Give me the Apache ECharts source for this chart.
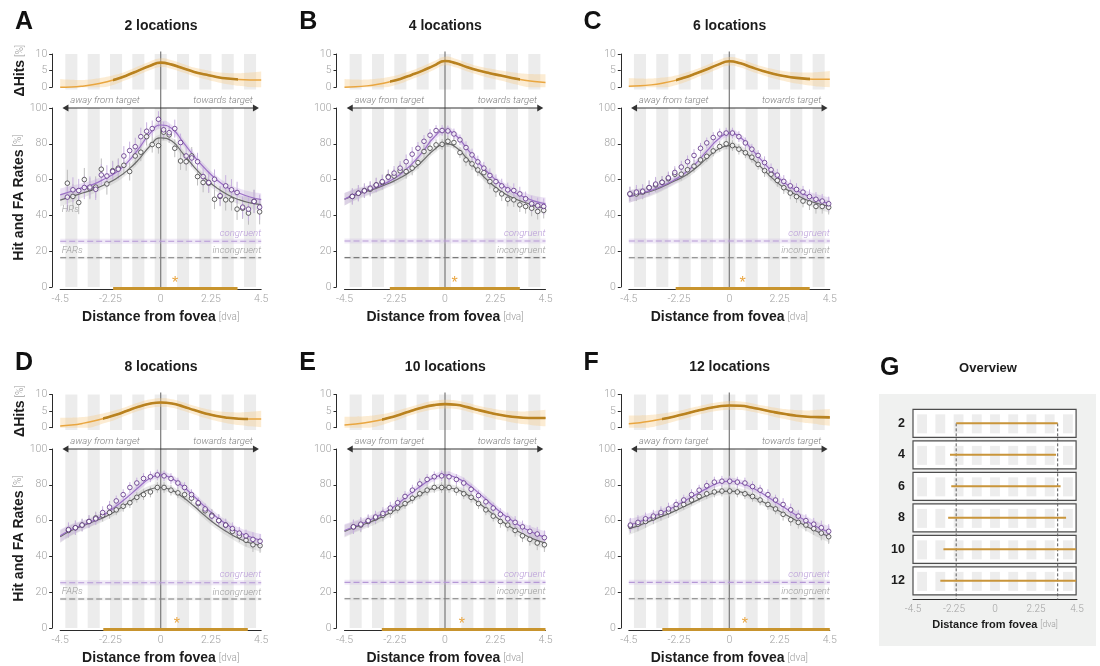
<!DOCTYPE html>
<html>
<head>
<meta charset="utf-8">
<title>Hit and false-alarm rates by distance from fovea</title>
<script src="https://cdn.jsdelivr.net/npm/echarts@6/dist/echarts.min.js"></script>
<style>
  html, body { margin: 0; padding: 0; background: #ffffff; }
  #chart { width: 1100px; height: 666px; }
</style>
</head>
<body>
<div id="chart"></div>
<script>
// ---------------------------------------------------------------- data ----
const setSizes = [2, 4, 6, 8, 10, 12];
const panelLetters = ['A', 'B', 'C', 'D', 'E', 'F'];
const stripeCenters = [-4, -3, -2, -1, 0, 1, 2, 3, 4];

// grid of the fitted curves (dva)
const fitX = [-4.5, -4, -3.5, -3, -2.5, -2, -1.5, -1, -0.5, 0, 0.5, 1, 1.5, 2, 2.5, 3, 3.5, 4, 4.5];
const fitCI = [3.5, 3.0, 2.6, 2.3, 2.1, 2.0, 2.0, 2.0, 2.0, 2.0, 2.0, 2.0, 2.0, 2.0, 2.1, 2.3, 2.6, 3.0, 3.5];
const dHitsCI = [2.5, 2.2, 1.9, 1.7, 1.5, 1.4, 1.3, 1.3, 1.3, 1.3, 1.3, 1.3, 1.3, 1.4, 1.5, 1.7, 1.9, 2.2, 2.5];

// 2 locations
const distA = [-4.18, -3.93, -3.67, -3.42, -3.17, -2.91, -2.66, -2.41, -2.15, -1.90, -1.65, -1.39, -1.14, -0.89, -0.63, -0.38, -0.10, 0.13, 0.38, 0.63, 0.89, 1.14, 1.39, 1.65, 1.90, 2.15, 2.41, 2.66, 2.91, 3.17, 3.42, 3.67, 3.93, 4.18, 4.43];
const congA = [50.2, 54.3, 53.9, 55.6, 55.8, 54.6, 62.6, 62.0, 64.5, 65.8, 73.2, 76.2, 78.4, 84.0, 87.0, 88.5, 93.7, 87.8, 86.2, 88.5, 80.7, 73.2, 72.1, 70.0, 61.7, 58.4, 60.2, 51.0, 56.5, 54.3, 52.8, 44.6, 43.5, 47.8, 44.6];
const incA = [58.0, 50.6, 47.2, 60.0, 55.0, 55.8, 65.8, 57.6, 65.0, 66.4, 68.0, 64.5, 73.2, 75.3, 84.0, 79.6, 79.0, 86.5, 85.0, 77.5, 70.4, 70.0, 73.2, 61.7, 58.4, 58.0, 49.0, 50.6, 48.7, 48.7, 43.5, 44.0, 41.3, 47.8, 42.0];
const errA = [7.5, 7, 6.5, 6.5, 6, 6, 6, 6, 5.5, 5.5, 5.5, 5, 5, 5, 5, 4.5, 4.5, 4.5, 4.5, 5, 5, 5, 5, 5, 5.5, 5.5, 5.5, 5.5, 6, 6, 6, 6, 6.5, 6.5, 7];
const congFitA = [51.5, 53.5, 55.5, 57.5, 60.5, 64.0, 69.5, 77.0, 85.5, 90.5, 88.5, 81.0, 73.0, 66.0, 60.0, 55.5, 52.5, 50.3, 48.8];
const incFitA = [48.5, 50.5, 52.5, 54.5, 57.3, 60.5, 65.0, 71.0, 78.5, 83.3, 81.5, 74.5, 67.0, 60.5, 55.5, 51.5, 48.8, 47.0, 46.0];
const dHitsA = [0.0, 0.05, 0.3, 0.8, 1.5, 2.4, 3.6, 5.0, 6.4, 7.4, 6.8, 5.7, 4.6, 3.8, 3.1, 2.6, 2.3, 2.2, 2.2];

// 4 locations
const distB = [-4.15, -3.88, -3.61, -3.35, -3.08, -2.81, -2.54, -2.28, -2.01, -1.74, -1.47, -1.21, -0.94, -0.67, -0.40, -0.13, 0.13, 0.40, 0.67, 0.94, 1.21, 1.47, 1.74, 2.01, 2.28, 2.54, 2.81, 3.08, 3.35, 3.61, 3.88, 4.15, 4.42];
const congB = [50.6, 52.4, 53.7, 55.2, 57.0, 58.9, 61.3, 63.6, 66.4, 70.0, 74.2, 77.5, 81.4, 84.8, 87.4, 87.4, 87.2, 85.5, 82.2, 77.9, 73.8, 69.9, 66.4, 62.3, 58.9, 56.5, 54.3, 53.9, 52.0, 49.3, 46.5, 45.4, 45.0];
const incB = [50.6, 52.4, 53.9, 54.6, 57.0, 58.4, 61.7, 62.0, 64.9, 64.5, 66.4, 69.5, 75.7, 77.5, 79.4, 79.7, 81.4, 80.7, 75.1, 71.0, 68.8, 65.4, 63.9, 58.9, 54.3, 52.0, 49.0, 48.7, 45.9, 45.0, 44.0, 42.2, 42.8];
const errB = [4.5, 4.5, 4, 4, 4, 4, 4, 4, 4, 4, 4, 3.5, 3.5, 3.5, 3, 3, 3, 3, 3, 3.5, 3.5, 3.5, 3.5, 4, 4, 4, 4, 4, 4, 4, 4.5, 4.5, 4.5];
const congFitB = [49.0, 52.0, 54.0, 56.0, 59.0, 63.0, 68.5, 75.5, 83.5, 87.5, 84.5, 77.0, 69.5, 63.0, 57.5, 53.5, 50.5, 48.0, 46.5];
const incFitB = [49.0, 51.5, 53.5, 55.5, 58.0, 61.0, 65.0, 70.5, 76.5, 80.0, 78.0, 71.5, 64.5, 58.5, 53.5, 50.0, 47.5, 45.5, 44.0];
const dHitsB = [0.0, 0.1, 0.4, 0.9, 1.6, 2.5, 3.7, 5.0, 6.5, 7.9, 7.2, 6.0, 5.0, 4.2, 3.5, 2.8, 2.2, 1.7, 1.4];

// 6 locations
const distC = [-4.45, -4.16, -3.88, -3.59, -3.30, -3.01, -2.73, -2.44, -2.15, -1.87, -1.58, -1.29, -1.01, -0.72, -0.43, -0.14, 0.14, 0.43, 0.72, 1.01, 1.29, 1.58, 1.87, 2.15, 2.44, 2.73, 3.01, 3.30, 3.59, 3.88, 4.16, 4.45];
const congC = [52.0, 53.0, 53.5, 55.5, 57.5, 58.5, 61.0, 64.0, 67.0, 70.0, 73.5, 77.5, 80.5, 83.5, 85.5, 86.0, 86.0, 84.0, 80.5, 77.0, 73.5, 69.5, 65.5, 62.5, 59.0, 56.5, 54.5, 53.0, 50.5, 49.0, 48.0, 46.5];
const incC = [52.0, 52.0, 53.0, 55.5, 57.0, 58.5, 60.5, 63.0, 63.0, 65.5, 67.5, 71.0, 73.0, 76.0, 78.5, 80.0, 79.0, 77.0, 75.0, 72.5, 68.5, 65.0, 63.0, 59.5, 55.5, 52.5, 50.5, 48.0, 47.0, 45.0, 45.0, 44.5];
const errC = [4, 4, 4, 4, 4, 3.5, 3.5, 3.5, 3.5, 3.5, 3.5, 3, 3, 3, 3, 3, 3, 3, 3, 3, 3, 3.5, 3.5, 3.5, 3.5, 3.5, 3.5, 3.5, 4, 4, 4, 4];
const congFitC = [50.5, 52.0, 54.0, 56.5, 59.5, 63.5, 69.0, 76.0, 82.5, 86.0, 83.5, 77.0, 70.0, 63.5, 58.0, 54.0, 51.0, 48.5, 46.5];
const incFitC = [50.5, 52.0, 53.5, 56.0, 59.0, 62.0, 66.5, 72.0, 77.0, 79.0, 77.0, 72.0, 66.0, 60.0, 55.0, 51.5, 48.5, 46.5, 45.0];
const dHitsC = [0.3, 0.4, 0.7, 1.2, 1.9, 2.9, 4.1, 5.4, 6.8, 7.8, 7.2, 6.0, 4.9, 4.0, 3.3, 2.8, 2.5, 2.4, 2.4];

// 8 locations
const distD = [-4.13, -3.82, -3.52, -3.21, -2.91, -2.60, -2.29, -1.99, -1.68, -1.38, -1.07, -0.77, -0.46, -0.15, 0.15, 0.46, 0.77, 1.07, 1.38, 1.68, 1.99, 2.29, 2.60, 2.91, 3.21, 3.52, 3.82, 4.13, 4.45];
const congD = [55.0, 56.0, 57.5, 59.5, 61.0, 64.5, 67.5, 71.0, 74.5, 78.5, 81.0, 83.5, 84.5, 85.5, 85.0, 83.5, 81.0, 78.5, 74.5, 70.0, 66.5, 62.5, 60.0, 57.5, 55.5, 53.0, 51.5, 49.5, 48.5];
const incD = [54.5, 56.0, 57.5, 59.5, 61.5, 63.0, 64.5, 66.0, 68.0, 70.0, 73.0, 74.5, 76.0, 78.5, 78.5, 77.0, 75.5, 74.5, 72.5, 69.5, 65.5, 63.0, 60.0, 57.5, 54.0, 51.5, 49.0, 46.5, 46.0];
const errD = [4, 4, 3.5, 3.5, 3.5, 3.5, 3.5, 3, 3, 3, 3, 3, 3, 3, 3, 3, 3, 3, 3, 3, 3, 3.5, 3.5, 3.5, 3.5, 3.5, 3.5, 4, 4];
const congFitD = [51.5, 55.0, 57.5, 60.0, 63.5, 68.0, 73.0, 78.5, 83.5, 85.5, 83.5, 79.0, 73.5, 67.5, 62.0, 57.5, 53.5, 51.0, 49.0];
const incFitD = [51.0, 54.5, 57.0, 59.5, 62.0, 65.5, 69.5, 74.0, 77.5, 78.5, 77.0, 73.0, 68.0, 62.5, 57.5, 53.5, 50.0, 47.5, 46.0];
const dHitsD = [0.5, 0.8, 1.3, 2.0, 2.9, 3.9, 5.1, 6.3, 7.2, 7.6, 7.3, 6.4, 5.3, 4.3, 3.5, 3.0, 2.7, 2.6, 2.6];

// 10 locations
const distE = [-4.10, -3.77, -3.44, -3.11, -2.78, -2.45, -2.12, -1.79, -1.46, -1.13, -0.80, -0.48, -0.15, 0.18, 0.51, 0.84, 1.17, 1.50, 1.83, 2.16, 2.48, 2.81, 3.14, 3.47, 3.80, 4.13, 4.45];
const congE = [56.5, 58.0, 60.0, 62.0, 64.0, 67.0, 70.0, 73.5, 77.0, 80.5, 83.0, 84.5, 85.0, 84.5, 83.0, 81.0, 77.5, 74.0, 70.5, 67.0, 63.5, 61.0, 59.0, 56.5, 54.0, 52.5, 50.5];
const incE = [56.5, 57.5, 59.5, 61.5, 63.0, 65.0, 67.0, 69.5, 72.5, 75.0, 77.0, 78.5, 78.5, 78.5, 77.0, 75.0, 73.0, 69.5, 66.0, 62.5, 59.5, 57.5, 54.5, 51.5, 49.5, 47.5, 46.5];
const errE = [4, 4, 3.5, 3.5, 3.5, 3.5, 3, 3, 3, 3, 3, 3, 3, 3, 3, 3, 3, 3, 3, 3, 3.5, 3.5, 3.5, 3.5, 3.5, 4, 4];
const congFitE = [54.5, 57.0, 59.5, 62.5, 66.0, 70.5, 75.5, 80.0, 84.0, 85.5, 84.0, 80.5, 75.5, 70.0, 64.5, 60.0, 56.0, 53.0, 50.5];
const incFitE = [54.0, 56.5, 58.5, 61.0, 64.0, 67.5, 71.5, 75.5, 78.0, 78.5, 77.5, 74.5, 70.0, 65.0, 60.0, 56.0, 52.5, 49.5, 47.5];
const dHitsE = [0.8, 1.1, 1.6, 2.2, 3.0, 4.0, 5.1, 6.1, 6.8, 7.1, 6.9, 6.2, 5.3, 4.5, 3.8, 3.3, 3.0, 2.9, 2.9];

// 12 locations
const distF = [-4.43, -4.09, -3.75, -3.40, -3.06, -2.72, -2.38, -2.04, -1.69, -1.35, -1.01, -0.67, -0.33, 0.02, 0.36, 0.70, 1.04, 1.38, 1.73, 2.07, 2.41, 2.75, 3.09, 3.43, 3.78, 4.12, 4.45];
const congF = [57.5, 59.0, 61.0, 62.5, 64.5, 66.5, 69.0, 71.5, 74.5, 77.0, 79.5, 81.5, 82.0, 82.0, 81.5, 81.0, 79.0, 77.0, 74.5, 71.5, 69.0, 66.0, 62.5, 60.0, 58.0, 56.0, 54.0];
const incF = [57.0, 58.0, 59.5, 61.5, 63.5, 65.0, 67.0, 69.0, 71.5, 73.5, 75.0, 76.0, 76.5, 76.5, 76.0, 75.0, 73.5, 71.5, 69.0, 66.5, 63.5, 60.5, 59.0, 57.5, 55.5, 53.0, 51.0];
const errF = [4, 4, 3.5, 3.5, 3.5, 3.5, 3, 3, 3, 3, 3, 3, 3, 3, 3, 3, 3, 3, 3, 3, 3.5, 3.5, 3.5, 3.5, 3.5, 4, 4];
const congFitF = [57.5, 59.5, 62.0, 64.5, 67.5, 71.0, 74.5, 78.0, 81.0, 82.0, 81.0, 78.5, 75.0, 71.0, 67.0, 63.0, 59.5, 56.0, 53.5];
const incFitF = [55.5, 57.5, 60.0, 62.5, 65.0, 68.0, 71.0, 74.0, 76.0, 76.5, 76.0, 73.5, 70.5, 67.0, 63.5, 60.0, 56.5, 53.5, 51.0];
const dHitsF = [1.2, 1.5, 2.0, 2.6, 3.3, 4.1, 5.0, 5.8, 6.4, 6.7, 6.6, 6.1, 5.4, 4.7, 4.1, 3.6, 3.3, 3.2, 3.1];

// false-alarm rates (flat), significant clusters and their markers
const farCongruent = [25.6, 25.7, 25.7, 25.3, 25.5, 25.5];
const farIncongruent = [16.3, 16.4, 16.3, 16.2, 16.3, 16.3];
const sigRanges = [[-2.13, 3.44], [-2.47, 3.35], [-2.40, 3.60], [-2.57, 3.90], [-2.83, 4.50], [-3.00, 4.50]];
const starPos = [0.64, 0.43, 0.60, 0.72, 0.76, 0.70];
const showHRsLabel = [true, false, false, false, false, false];
const showFARsLabel = [true, false, false, true, false, false];

const panelDist = [distA, distB, distC, distD, distE, distF];
const panelCong = [congA, congB, congC, congD, congE, congF];
const panelInc = [incA, incB, incC, incD, incE, incF];
const panelErr = [errA, errB, errC, errD, errE, errF];
const panelCongFit = [congFitA, congFitB, congFitC, congFitD, congFitE, congFitF];
const panelIncFit = [incFitA, incFitB, incFitC, incFitD, incFitE, incFitF];
const panelDHits = [dHitsA, dHitsB, dHitsC, dHitsD, dHitsE, dHitsF];

// -------------------------------------------------------------- layout ----
const COL_LEFT = [60.2, 344.5, 628.8];
const PLOT_W = 201;
const DH_TOP = [54, 394.5];
const DH_H = 33.2;
const MAIN_TOP = [108, 449];
const MAIN_H = 179;
const STRIPE_HALF = 0.27;

// ---------------------------------------------------------------- style ---
const LIGHT = "Roboto, 'Liberation Sans', sans-serif";
const BOLD = "'Liberation Sans', Arial, sans-serif";
const ITALIC = "italic 300 9.6px Roboto, 'Liberation Sans', sans-serif";
const TICK = '#a2a2a2';
const STRIPE = '#ececec';
const PURPLE_LINE = '#9b70c6';
const PURPLE_DOT = '#5a2c84';
const PURPLE_ERR = '#c9b2e0';
const PURPLE_BAND = 'rgba(175,135,215,0.24)';
const GRAY_LINE = '#6b6b6b';
const GRAY_DOT = '#3e3e3e';
const GRAY_ERR = '#bdbdbd';
const GRAY_BAND = 'rgba(150,150,150,0.2)';
const GOLD_DARK = '#b9821f';
const GOLD_LIGHT = '#e9a640';
const GOLD_BAND = 'rgba(246,205,140,0.38)';
const SIG = '#c8942e';

const nameRich = {
  b: { fontFamily: BOLD, fontWeight: 'bold', fontSize: 14, color: '#1c1c1c' },
  l: { fontFamily: LIGHT, fontWeight: 300, fontSize: 10, color: '#9a9a9a' }
};
const nameRichSmall = {
  b: { fontFamily: BOLD, fontWeight: 'bold', fontSize: 11, color: '#1c1c1c' },
  l: { fontFamily: LIGHT, fontWeight: 300, fontSize: 8.5, color: '#9a9a9a' }
};

const grids = [], xAxes = [], yAxes = [], series = [], visualMaps = [], graphics = [];

function axisLineStyle() { return { show: true, onZero: false, lineStyle: { color: '#2b2b2b', width: 1 } }; }
function tickLabel(size) { return { color: TICK, fontFamily: LIGHT, fontWeight: 300, fontSize: size, margin: 5 }; }

// cubic segments through pixel points (same tension as the line series' smoothing)
function smoothSegments(pts) {
  let d = '';
  for (let k = 0; k < pts.length - 1; k++) {
    const p0 = pts[k - 1] || pts[k], p1 = pts[k], p2 = pts[k + 1], p3 = pts[k + 2] || p2;
    const c1x = p1[0] + (p2[0] - p0[0]) / 4, c1y = p1[1] + (p2[1] - p0[1]) / 4;
    const c2x = p2[0] - (p3[0] - p1[0]) / 4, c2y = p2[1] - (p3[1] - p1[1]) / 4;
    d += ' C' + c1x + ',' + c1y + ' ' + c2x + ',' + c2y + ' ' + p2[0] + ',' + p2[1];
  }
  return d;
}

function stripes(ax, yTop, yBot) {
  series.push({
    type: 'custom', xAxisIndex: ax, yAxisIndex: ax, silent: true, clip: false, z: 1,
    data: stripeCenters.map(c => [c, yTop, yBot]),
    renderItem: (params, api) => {
      const a = api.coord([api.value(0) - STRIPE_HALF, api.value(1)]);
      const b = api.coord([api.value(0) + STRIPE_HALF, api.value(2)]);
      return { type: 'rect', shape: { x: a[0], y: a[1], width: b[0] - a[0], height: b[1] - a[1] }, style: { fill: STRIPE } };
    }
  });
}

// confidence band between mid - ci and mid + ci
function band(ax, xs, mid, ci, color) {
  series.push({
    type: 'custom', xAxisIndex: ax, yAxisIndex: ax, silent: true, clip: true, z: 3,
    data: xs.map((x, k) => [x, mid[k] - ci[k], mid[k] + ci[k]]),
    encode: { x: 0, y: [1, 2] },
    renderItem: (params, api) => {
      if (params.dataIndexInside !== 0) return null;
      const n = params.dataInsideLength;
      const up = [], lo = [];
      for (let k = 0; k < n; k++) {
        up.push(api.coord([api.value(0, k), api.value(2, k)]));
        lo.push(api.coord([api.value(0, k), api.value(1, k)]));
      }
      lo.reverse();
      const d = 'M' + up[0][0] + ',' + up[0][1] + smoothSegments(up) +
        ' L' + lo[0][0] + ',' + lo[0][1] + smoothSegments(lo) + ' Z';
      return { type: 'path', shape: { pathData: d }, style: { fill: color } };
    }
  });
}

function errorBars(ax, xs, ys, err, color) {
  series.push({
    type: 'custom', xAxisIndex: ax, yAxisIndex: ax, silent: true, z: 5,
    data: xs.map((x, k) => [x, ys[k], err[k]]),
    encode: { x: 0, y: 1 },
    renderItem: (params, api) => {
      const x = api.value(0), y = api.value(1), e = api.value(2);
      const a = api.coord([x, y - e]), b = api.coord([x, y + e]);
      return { type: 'line', shape: { x1: a[0], y1: a[1], x2: b[0], y2: b[1] }, style: { stroke: color, lineWidth: 1 } };
    }
  });
}

function label(x, y, text, fill, align) {
  return { type: 'text', style: { text, x, y, fill, font: ITALIC, textAlign: align, textVerticalAlign: 'middle' } };
}

function addPanel(i) {
  const col = i % 3, row = Math.floor(i / 3);
  const dh = grids.length, mn = dh + 1;
  grids.push({ left: COL_LEFT[col], top: DH_TOP[row], width: PLOT_W, height: DH_H });
  grids.push({ left: COL_LEFT[col], top: MAIN_TOP[row], width: PLOT_W, height: MAIN_H });

  xAxes.push({ gridIndex: dh, type: 'value', min: -4.5, max: 4.5, show: false });
  xAxes.push({
    gridIndex: mn, type: 'value', min: -4.5, max: 4.5, interval: 2.25, offset: 2,
    axisLine: axisLineStyle(), axisTick: { show: false }, splitLine: { show: false },
    axisLabel: tickLabel(10.5),
    name: '{b|Distance from fovea} {l|[dva]}', nameLocation: 'middle', nameGap: 21,
    nameTextStyle: { rich: nameRich }
  });
  yAxes.push({
    gridIndex: dh, type: 'value', min: 0, max: 10, interval: 5, offset: 8,
    axisLine: axisLineStyle(), axisTick: { show: true, length: 3, lineStyle: { color: '#2b2b2b' } },
    splitLine: { show: false }, axisLabel: tickLabel(10.5),
    name: col === 0 ? '{b|ΔHits} {l|[%]}' : '', nameLocation: 'middle', nameRotate: 90, nameGap: 25,
    nameTextStyle: { rich: nameRich }
  });
  yAxes.push({
    gridIndex: mn, type: 'value', min: 0, max: 100, interval: 20, offset: 8,
    axisLine: axisLineStyle(), axisTick: { show: true, length: 3, lineStyle: { color: '#2b2b2b' } },
    splitLine: { show: false }, axisLabel: tickLabel(10.5),
    name: col === 0 ? '{b|Hit and FA Rates} {l|[%]}' : '', nameLocation: 'middle', nameRotate: 90, nameGap: 25,
    nameTextStyle: { rich: nameRich }
  });

  const xs = panelDist[i], sig = sigRanges[i];
  const fc = farCongruent[i], fi = farIncongruent[i];

  // background stripes
  stripes(dh, 10, -0.7);
  stripes(mn, 100, 0);

  // zero (target) line running through both plots
  series.push({
    type: 'custom', xAxisIndex: mn, yAxisIndex: mn, silent: true, clip: false, z: 2,
    data: [[0, 0]],
    renderItem: (params, api) => {
      const a = api.coord([0, 0]), b = api.coord([0, 131.5]);
      return { type: 'line', shape: { x1: a[0], y1: a[1], x2: b[0], y2: b[1] }, style: { stroke: '#7a7a7a', lineWidth: 1.2 } };
    }
  });

  // ΔHits band and curve
  band(dh, fitX, panelDHits[i], dHitsCI, GOLD_BAND);
  series.push({
    type: 'line', xAxisIndex: dh, yAxisIndex: dh, silent: true, z: 6, smooth: true, symbol: 'none',
    data: fitX.map((x, k) => [x, panelDHits[i][k]]), lineStyle: { color: GOLD_LIGHT, width: 1.5 }
  });
  const thick = series.length;
  series.push({
    type: 'line', xAxisIndex: dh, yAxisIndex: dh, silent: true, z: 6, smooth: true, symbol: 'none',
    data: fitX.map((x, k) => [x, panelDHits[i][k]]), lineStyle: { width: 2.6 }
  });
  visualMaps.push({
    type: 'piecewise', show: false, dimension: 0, seriesIndex: thick,
    pieces: [{ gte: sig[0], lte: sig[1], color: GOLD_DARK }], outOfRange: { color: 'rgba(185,130,31,0)' }
  });

  // hit-rate fit bands
  band(mn, fitX, panelIncFit[i], fitCI, GRAY_BAND);
  band(mn, fitX, panelCongFit[i], fitCI, PURPLE_BAND);

  // false-alarm rates
  series.push({
    type: 'custom', xAxisIndex: mn, yAxisIndex: mn, silent: true, z: 3,
    data: [[fc, fi]],
    renderItem: (params, api) => {
      const a = api.coord([-4.5, api.value(0) + 1.4]), b = api.coord([4.5, api.value(0) - 1.4]);
      const c = api.coord([-4.5, api.value(1) + 0.8]), d = api.coord([4.5, api.value(1) - 0.8]);
      return { type: 'group', children: [
        { type: 'rect', shape: { x: a[0], y: a[1], width: b[0] - a[0], height: b[1] - a[1] }, style: { fill: 'rgba(200,178,228,0.28)' } },
        { type: 'rect', shape: { x: c[0], y: c[1], width: d[0] - c[0], height: d[1] - c[1] }, style: { fill: 'rgba(185,185,185,0.14)' } }
      ] };
    }
  });
  series.push({
    type: 'line', xAxisIndex: mn, yAxisIndex: mn, silent: true, z: 4, symbol: 'none',
    data: [[-4.5, fc], [4.5, fc]], lineStyle: { color: '#b597d6', width: 1.1, type: [6, 3] }
  });
  series.push({
    type: 'line', xAxisIndex: mn, yAxisIndex: mn, silent: true, z: 4, symbol: 'none',
    data: [[-4.5, fi], [4.5, fi]], lineStyle: { color: '#7a7a7a', width: 1.1, type: [6, 3] }
  });

  // binned hit rates with error bars
  errorBars(mn, xs, panelInc[i], panelErr[i], GRAY_ERR);
  errorBars(mn, xs, panelCong[i], panelErr[i], PURPLE_ERR);

  // fitted curves
  series.push({
    type: 'line', xAxisIndex: mn, yAxisIndex: mn, silent: true, z: 6, smooth: true, symbol: 'none',
    data: fitX.map((x, k) => [x, panelIncFit[i][k]]), lineStyle: { color: GRAY_LINE, width: 1.2 }
  });
  series.push({
    type: 'line', xAxisIndex: mn, yAxisIndex: mn, silent: true, z: 6, smooth: true, symbol: 'none',
    data: fitX.map((x, k) => [x, panelCongFit[i][k]]), lineStyle: { color: PURPLE_LINE, width: 1.2 }
  });

  series.push({
    type: 'scatter', xAxisIndex: mn, yAxisIndex: mn, silent: true, z: 7, symbol: 'circle', symbolSize: 4.6,
    data: xs.map((x, k) => [x, panelInc[i][k]]),
    itemStyle: { color: '#ffffff', borderColor: GRAY_DOT, borderWidth: 1 }
  });
  series.push({
    type: 'scatter', xAxisIndex: mn, yAxisIndex: mn, silent: true, z: 7, symbol: 'circle', symbolSize: 4.6,
    data: xs.map((x, k) => [x, panelCong[i][k]]),
    itemStyle: { color: '#ffffff', borderColor: PURPLE_DOT, borderWidth: 1 }
  });

  // direction arrow, labels, significance bar and marker
  series.push({
    type: 'custom', xAxisIndex: mn, yAxisIndex: mn, silent: true, clip: false, z: 8,
    data: [[sig[0], sig[1], starPos[i], fc, fi]],
    encode: { x: [0, 1, 2] },
    renderItem: (params, api) => {
      const out = [];
      const L = api.coord([-4.4, 100]), R = api.coord([4.4, 100]);
      out.push({ type: 'line', shape: { x1: L[0] + 3, y1: L[1], x2: R[0] - 3, y2: R[1] }, style: { stroke: '#333', lineWidth: 1 } });
      out.push({ type: 'polygon', shape: { points: [[L[0], L[1]], [L[0] + 6, L[1] - 3.5], [L[0] + 6, L[1] + 3.5]] }, style: { fill: '#333' } });
      out.push({ type: 'polygon', shape: { points: [[R[0], R[1]], [R[0] - 6, R[1] - 3.5], [R[0] - 6, R[1] + 3.5]] }, style: { fill: '#333' } });
      const aw = api.coord([-4.05, 100]), tw = api.coord([4.12, 100]);
      out.push(label(aw[0], aw[1] - 7.5, 'away from target', '#808080', 'left'));
      out.push(label(tw[0], tw[1] - 7.5, 'towards target', '#808080', 'right'));

      const c1 = api.coord([4.5, api.value(3) + 4.3]);
      out.push(label(c1[0], c1[1], 'congruent', '#b89ad8', 'right'));
      const c2 = api.coord([4.5, api.value(4) + 3.8]);
      out.push(label(c2[0], c2[1], 'incongruent', '#9c9c9c', 'right'));
      if (showHRsLabel[i]) {
        const h = api.coord([-4.43, 43.5]);
        out.push(label(h[0], h[1], 'HRs', '#9c9c9c', 'left'));
      }
      if (showFARsLabel[i]) {
        const f = api.coord([-4.43, 20.3]);
        out.push(label(f[0], f[1], 'FARs', '#9c9c9c', 'left'));
      }

      const s0 = api.coord([api.value(0), 0]), s1 = api.coord([api.value(1), 0]);
      out.push({ type: 'line', shape: { x1: s0[0], y1: s0[1] + 1.5, x2: s1[0], y2: s1[1] + 1.5 }, style: { stroke: SIG, lineWidth: 3 } });
      const st = api.coord([api.value(2), 3.5]);
      out.push({ type: 'text', style: { text: '*', x: st[0], y: st[1] + 3, fill: '#eaa642', font: "16px 'Liberation Sans', sans-serif", textAlign: 'center', textVerticalAlign: 'middle' } });
      return { type: 'group', children: out };
    }
  });

  // panel letter and title
  graphics.push({ type: 'text', style: { text: panelLetters[i], x: 15 + 284.3 * col, y: 22.5 + 341 * row, font: "bold 25px 'Liberation Sans', sans-serif", fill: '#111', textAlign: 'left', textVerticalAlign: 'middle' } });
  graphics.push({ type: 'text', style: { text: setSizes[i] + ' locations', x: 161 + 284.3 * col, y: 25.7 + 341 * row, font: "bold 14px 'Liberation Sans', sans-serif", fill: '#1c1c1c', textAlign: 'center', textVerticalAlign: 'middle' } });
}

for (let i = 0; i < 6; i++) addPanel(i);

// ------------------------------------------------------- overview (G) ----
const gG = grids.length;
grids.push({ left: 913, top: 407.6, width: 164, height: 189 });
xAxes.push({
  gridIndex: gG, type: 'value', min: -4.5, max: 4.5, interval: 2.25, offset: 3,
  axisLine: axisLineStyle(), axisTick: { show: false }, splitLine: { show: false },
  axisLabel: tickLabel(10),
  name: '{b|Distance from fovea} {l|[dva]}', nameLocation: 'middle', nameGap: 19,
  nameTextStyle: { rich: nameRichSmall }
});
yAxes.push({
  gridIndex: gG, type: 'category', data: setSizes.map(String), inverse: true,
  axisLine: { show: false }, axisTick: { show: false }, splitLine: { show: false },
  axisLabel: { color: '#1c1c1c', fontFamily: BOLD, fontWeight: 'bold', fontSize: 12.5, margin: 8 }
});

series.push({
  type: 'custom', xAxisIndex: gG, yAxisIndex: gG, silent: true, z: 1,
  data: setSizes.map((s, k) => [0, k]),
  renderItem: (params, api) => {
    const row = api.value(1);
    const bandH = api.size([0, 1])[1];
    const ctr = api.coord([0, row]);
    const l = api.coord([-4.5, row])[0], r = api.coord([4.45, row])[0];
    const h = bandH * 0.889, top = ctr[1] - h / 2;
    const kids = [{ type: 'rect', shape: { x: l, y: top, width: r - l, height: h }, style: { fill: '#ffffff', stroke: '#4d4d4d', lineWidth: 1.2 } }];
    stripeCenters.forEach(c => {
      const a = api.coord([c - STRIPE_HALF, row])[0], b = api.coord([c + STRIPE_HALF, row])[0];
      kids.push({ type: 'rect', shape: { x: a, y: top + 5, width: b - a, height: h - 9 }, style: { fill: '#ededed' } });
    });
    return { type: 'group', children: kids };
  }
});
// reference range of the 2-location cluster
series.push({
  type: 'custom', xAxisIndex: gG, yAxisIndex: gG, silent: true, clip: false, z: 2,
  data: [[sigRanges[0][0], 0], [sigRanges[0][1], 0]],
  renderItem: (params, api) => {
    const bandH = api.size([0, 1])[1];
    const a = api.coord([api.value(0), 0]);
    const bottom = api.coord([api.value(0), setSizes.length - 1])[1] + bandH / 2 + 3;
    return { type: 'line', shape: { x1: a[0], y1: a[1], x2: a[0], y2: bottom }, style: { stroke: '#5a5a5a', lineWidth: 1, lineDash: [3, 2] } };
  }
});
series.push({
  type: 'custom', xAxisIndex: gG, yAxisIndex: gG, silent: true, z: 3,
  data: sigRanges.map((r, k) => [r[0], Math.min(r[1], 4.45), k]),
  encode: { x: [0, 1], y: 2 },
  renderItem: (params, api) => {
    const a = api.coord([api.value(0), api.value(2)]), b = api.coord([api.value(1), api.value(2)]);
    return { type: 'line', shape: { x1: a[0], y1: a[1], x2: b[0], y2: b[1] }, style: { stroke: '#c9953a', lineWidth: 2 } };
  }
});

graphics.push({ type: 'rect', z: -10, shape: { x: 879, y: 394, width: 217, height: 252 }, style: { fill: '#f0f1f0' } });
graphics.push({ type: 'text', style: { text: 'G', x: 880, y: 368, font: "bold 25px 'Liberation Sans', sans-serif", fill: '#111', textAlign: 'left', textVerticalAlign: 'middle' } });
graphics.push({ type: 'text', style: { text: 'Overview', x: 988, y: 368, font: "bold 13px 'Liberation Sans', sans-serif", fill: '#1c1c1c', textAlign: 'center', textVerticalAlign: 'middle' } });

const chart = echarts.init(document.getElementById('chart'), null, { renderer: 'canvas' });
chart.setOption({
  animation: false,
  backgroundColor: '#ffffff',
  textStyle: { fontFamily: LIGHT },
  grid: grids,
  xAxis: xAxes,
  yAxis: yAxes,
  visualMap: visualMaps,
  series: series,
  graphic: { elements: graphics }
});
</script>
</body>
</html>
